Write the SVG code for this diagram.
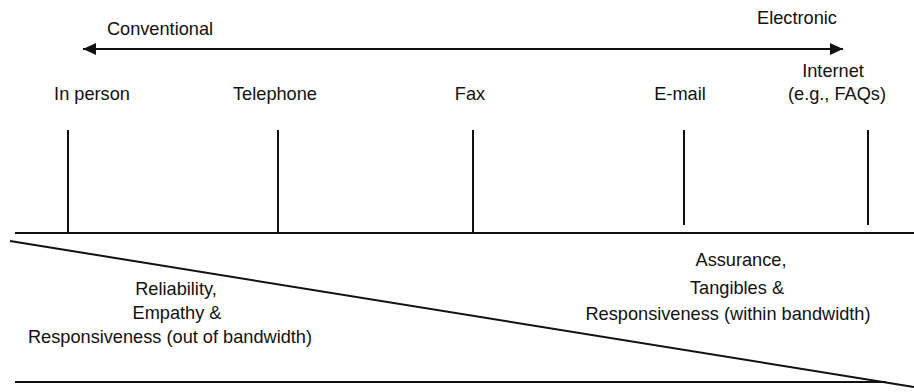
<svg xmlns="http://www.w3.org/2000/svg" width="914" height="392" viewBox="0 0 914 392">
<style>
text{font-family:"Liberation Sans",Arial,sans-serif;font-size:18.2px;fill:#111}
.m{text-anchor:middle}
.ln{stroke:#111;stroke-width:2;fill:none}
</style>
<defs>
<marker id="ah" viewBox="0 0 13 12" refX="13" refY="6" markerWidth="13" markerHeight="12" markerUnits="userSpaceOnUse" orient="auto-start-reverse">
<polygon points="0,0 13,6 0,12" fill="#111"/>
</marker>
</defs>
<rect width="914" height="392" fill="#fff"/>
<g id="connectors">
<line class="ln" x1="83" y1="49" x2="843" y2="49" marker-start="url(#ah)" marker-end="url(#ah)"/>
<line class="ln" x1="15" y1="233" x2="914" y2="233"/>
<line class="ln" x1="68" y1="130" x2="68" y2="233"/>
<line class="ln" x1="278" y1="130" x2="278" y2="233"/>
<line class="ln" x1="473" y1="130" x2="473" y2="233"/>
<line class="ln" x1="684" y1="130" x2="684" y2="225"/>
<line class="ln" x1="868" y1="130" x2="868" y2="225"/>
<line class="ln" x1="10" y1="241" x2="914" y2="387"/>
<line class="ln" x1="15" y1="382" x2="886" y2="382"/>
</g>
<g id="conventional"><text x="160" y="35" class="m">Conventional</text></g>
<g id="electronic"><text x="797" y="24" class="m">Electronic</text></g>
<g id="inperson"><text x="92" y="100" class="m">In person</text></g>
<g id="telephone"><text x="275" y="100" class="m">Telephone</text></g>
<g id="fax"><text x="470" y="100" class="m">Fax</text></g>
<g id="email"><text x="680" y="100" class="m">E-mail</text></g>
<g id="internet"><text x="833" y="77" class="m">Internet</text><text x="837" y="100" class="m">(e.g., FAQs)</text></g>
<g id="left-region">
<text x="176" y="295" class="m">Reliability,</text>
<text x="177" y="319" class="m">Empathy &amp;</text>
<text x="170" y="343" class="m">Responsiveness (out of bandwidth)</text>
</g>
<g id="right-region">
<text x="741" y="266" class="m">Assurance,</text>
<text x="737" y="294" class="m">Tangibles &amp;</text>
<text x="728" y="320" class="m">Responsiveness (within bandwidth)</text>
</g>
</svg>
